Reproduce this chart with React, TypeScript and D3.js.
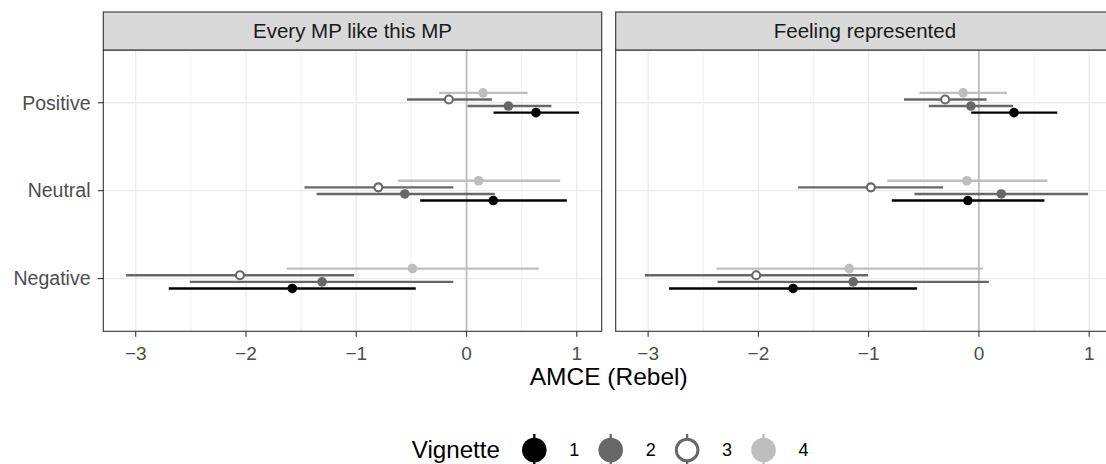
import React from "react";
import * as d3 from "d3";

const attributes = ["Positive", "Neutral", "Negative"];
const vignettes = ["1", "2", "3", "4"];
const outcomes = ["Every MP like this MP", "Feeling represented"];
const xTicks = [-3, -2, -1, 0, 1];
const xMinor = [-3.5, -2.5, -1.5, -0.5, 0.5, 1.5];

// Every MP like this MP (values per attribute: Positive, Neutral, Negative)
const mpEst = {
  "1": [0.63, 0.243, -1.58],
  "2": [0.38, -0.56, -1.31],
  "3": [-0.16, -0.8, -2.055],
  "4": [0.15, 0.11, -0.49],
};
const mpLow = {
  "1": [0.245, -0.42, -2.7],
  "2": [0.01, -1.36, -2.51],
  "3": [-0.54, -1.47, -3.087],
  "4": [-0.25, -0.62, -1.63],
};
const mpHigh = {
  "1": [1.02, 0.91, -0.46],
  "2": [0.77, 0.256, -0.12],
  "3": [0.23, -0.12, -1.02],
  "4": [0.555, 0.85, 0.655],
};

// Feeling represented
const frEst = {
  "1": [0.318, -0.1, -1.685],
  "2": [-0.073, 0.203, -1.14],
  "3": [-0.306, -0.98, -2.02],
  "4": [-0.143, -0.11, -1.176],
};
const frLow = {
  "1": [-0.07, -0.79, -2.81],
  "2": [-0.455, -0.585, -2.37],
  "3": [-0.68, -1.64, -3.03],
  "4": [-0.54, -0.83, -2.38],
};
const frHigh = {
  "1": [0.71, 0.594, -0.56],
  "2": [0.31, 0.99, 0.09],
  "3": [0.07, -0.325, -1.006],
  "4": [0.254, 0.62, 0.036],
};

const panelData = [
  { est: mpEst, low: mpLow, high: mpHigh },
  { est: frEst, low: frLow, high: frHigh },
];

const lineColor: Record<string, string> = { "1": "#000000", "2": "#676767", "3": "#676767", "4": "#BEBEBE" };
const fillColor: Record<string, string> = { "1": "#000000", "2": "#676767", "3": "#FFFFFF", "4": "#BEBEBE" };

const FONT = "'Liberation Sans', Arial, Helvetica, sans-serif";

export default function App() {
  const W = 1106;
  const H = 464;
  const panelTop = 50;
  const panelBottom = 331.3;
  const stripTop = 12;
  const panelW = 498.4;
  const panelLefts = [103.3, 615.7];

  const y = d3.scalePoint<string>().domain(attributes).range([panelTop, panelBottom]).padding(0.6);
  const step = y.step();
  const dodge = d3
    .scaleBand<string>()
    .domain(["4", "3", "2", "1"])
    .range([-0.15 * step, 0.15 * step]);

  const xDomain: [number, number] = [-3.294, 1.226];

  return (
    <div style={{ position: "absolute", left: 0, top: 0 }}>
      <svg width={W} height={H} style={{ display: "block", fontFamily: FONT }}>
        <rect x={0} y={0} width={W} height={H} fill="#FFFFFF" />
        {panelData.map((pd, pi) => {
          const x0 = panelLefts[pi];
          const x = d3.scaleLinear().domain(xDomain).range([x0, x0 + panelW]);
          const clipId = `clip${pi}`;
          return (
            <g key={pi}>
              <defs>
                <clipPath id={clipId}>
                  <rect x={x0} y={panelTop} width={panelW} height={panelBottom - panelTop} />
                </clipPath>
              </defs>
              <g clipPath={`url(#${clipId})`}>
                {xMinor.map((t) => (
                  <line key={"mn" + t} x1={x(t)} x2={x(t)} y1={panelTop} y2={panelBottom} stroke="#EBEBEB" strokeWidth={0.7} />
                ))}
                {xTicks.map((t) => (
                  <line key={"mj" + t} x1={x(t)} x2={x(t)} y1={panelTop} y2={panelBottom} stroke="#EBEBEB" strokeWidth={1.3} />
                ))}
                {attributes.map((a) => (
                  <line key={"h" + a} x1={x0} x2={x0 + panelW} y1={y(a)!} y2={y(a)!} stroke="#EBEBEB" strokeWidth={1.3} />
                ))}
                <line x1={x(0)} x2={x(0)} y1={panelTop} y2={panelBottom} stroke="#BEBEBE" strokeWidth={1.8} />
                {["4", "3", "2", "1"].map((v) =>
                  attributes.map((a, ai) => {
                    const cy = y(a)! + dodge(v)! + dodge.bandwidth() / 2;
                    const est = (pd.est as any)[v][ai];
                    const lo = (pd.low as any)[v][ai];
                    const hi = (pd.high as any)[v][ai];
                    return (
                      <g key={v + a}>
                        <line x1={x(lo)} x2={x(hi)} y1={cy} y2={cy} stroke={lineColor[v]} strokeWidth={2.4} />
                        {v === "3" ? (
                          <circle cx={x(est)} cy={cy} r={4} fill="#FFFFFF" stroke={lineColor[v]} strokeWidth={2.1} />
                        ) : (
                          <circle cx={x(est)} cy={cy} r={4.8} fill={fillColor[v]} />
                        )}
                      </g>
                    );
                  })
                )}
              </g>
              <rect x={x0} y={panelTop} width={panelW} height={panelBottom - panelTop} fill="none" stroke="#333333" strokeWidth={1.1} />
              {/* strip */}
              <rect x={x0} y={stripTop} width={panelW} height={panelTop - stripTop} fill="#D9D9D9" stroke="#333333" strokeWidth={1.1} />
              <text x={x0 + panelW / 2} y={(stripTop + panelTop) / 2} dy="0.35em" textAnchor="middle" fontSize={20.5} fill="#1A1A1A">
                {outcomes[pi]}
              </text>
              {/* x axis */}
              {xTicks.map((t) => (
                <g key={"xt" + t}>
                  <line x1={x(t)} x2={x(t)} y1={panelBottom} y2={panelBottom + 5.5} stroke="#333333" strokeWidth={1.1} />
                  <text x={x(t)} y={353} dy="0.35em" textAnchor="middle" fontSize={19} fill="#4D4D4D">
                    {t < 0 ? "\u2212" + Math.abs(t) : String(t)}
                  </text>
                </g>
              ))}
            </g>
          );
        })}
        {/* y axis */}
        {attributes.map((a) => (
          <g key={"ya" + a}>
            <line x1={panelLefts[0] - 5.5} x2={panelLefts[0]} y1={y(a)!} y2={y(a)!} stroke="#333333" strokeWidth={1.1} />
            <text x={90.5} y={y(a)!} dy="0.35em" textAnchor="end" fontSize={19.5} fill="#4D4D4D">
              {a}
            </text>
          </g>
        ))}
        <text x={(panelLefts[0] + panelLefts[1] + panelW) / 2} y={376.5} dy="0.35em" textAnchor="middle" fontSize={24.5} fill="#000000">
          AMCE (Rebel)
        </text>
        {/* legend */}
        <g>
          <text x={411.7} y={450} dy="0.35em" fontSize={24.2} fill="#000000">
            Vignette
          </text>
          {vignettes.map((v, i) => {
            const cx = 534.3 + i * 76.4;
            return (
              <g key={"lg" + v}>
                <line x1={cx} x2={cx} y1={434} y2={466} stroke={lineColor[v]} strokeWidth={2.3} />
                {v === "3" ? (
                  <circle cx={cx} cy={450} r={10.8} fill="#FFFFFF" stroke={lineColor[v]} strokeWidth={3} />
                ) : (
                  <circle cx={cx} cy={450} r={12.3} fill={fillColor[v]} />
                )}
                <text x={cx + 35} y={450} dy="0.35em" fontSize={18} fill="#000000">
                  {v}
                </text>
              </g>
            );
          })}
        </g>
      </svg>
    </div>
  );
}
